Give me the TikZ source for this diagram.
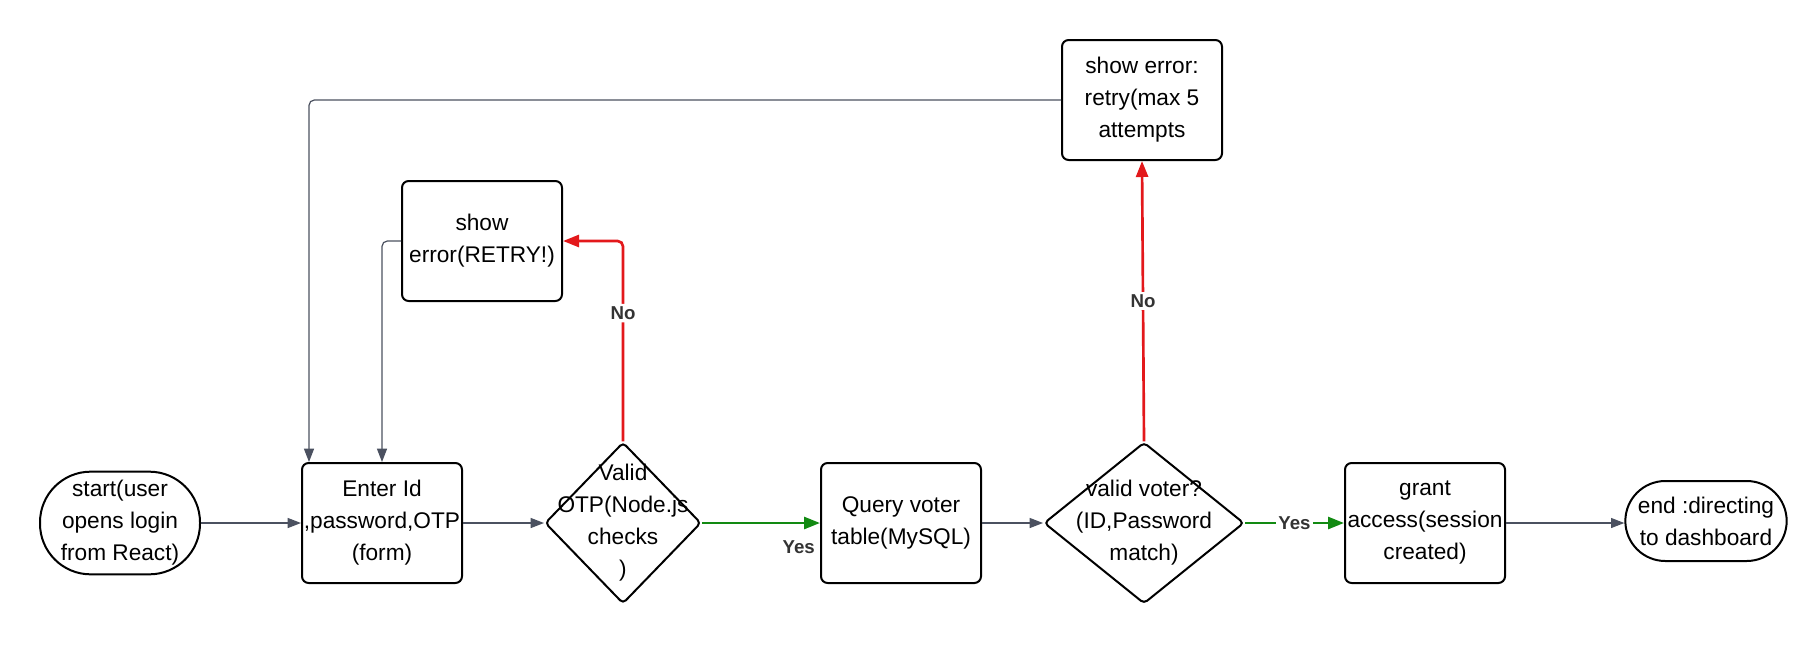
\documentclass[tikz,border=0pt]{standalone}
\usepackage{fontspec}
\setmainfont{Liberation Sans}
\usetikzlibrary{shapes.geometric,arrows.meta,calc}
\definecolor{linegray}{HTML}{4B5160}
\definecolor{nored}{HTML}{E3181B}
\definecolor{yesgreen}{HTML}{128A12}
\definecolor{taggray}{HTML}{333333}
\begin{document}
\begin{tikzpicture}[x=0.75pt, y=-0.75pt,
  every node/.style={font=\fontsize{17}{24}\selectfont, align=center},
  term node/.style={draw, line width=1.5pt, minimum width=120pt, minimum height=77pt, rounded corners=38pt, inner sep=0pt},
  box node/.style={draw, line width=1.5pt, minimum width=120pt, minimum height=90pt, rounded corners=5pt, inner sep=0pt},
  choice node/.style={diamond, draw, line width=1.5pt, minimum height=121pt, inner sep=0pt, rounded corners=3pt},
  tag/.style={font=\fontsize{14}{16}\selectfont\bfseries, text=taggray, fill=white, inner sep=2pt},
  flow/.style={draw=linegray, line width=0.9pt, -{Triangle[length=10pt,width=7.5pt]}},
  yes line/.style={draw=yesgreen, line width=2pt, -{Triangle[length=12pt,width=9pt]}},
  no line/.style={draw=nored, line width=2pt, -{Triangle[length=12pt,width=9pt]}}]
\useasboundingbox (0,0) rectangle (1820,647);
% main row
\node[term node] (start) at (120,523) {start(user\\opens login\\from React)};
\node[box node] (enter) at (382,523) {Enter Id\\,password,OTP\\(form)};
\node[choice node, minimum width=117pt, label={center:{Valid\\OTP(Node.js\\checks\\)}}] (otp) at (623,523) {};
\node[box node] (query) at (901,523) {Query voter\\table(MySQL)};
\node[choice node, minimum width=150pt, label={center:{valid voter?\\(ID,Password\\match)}}] (voter) at (1144,523) {};
\node[box node] (grant) at (1425,523) {grant\\access(session\\created)};
\node[term node, minimum width=121pt, minimum height=60pt, rounded corners=30pt] (finish) at (1706,521) {end :directing\\to dashboard};
% error boxes
\node[box node] (retry) at (482,241) {show\\error(RETRY!)};
\node[box node] (retrymax) at (1142,100) {show error:\\retry(max 5\\attempts};
% connectors
\draw[flow] (start) -- (enter);
\draw[flow] (enter) -- (otp);
\draw[yes line] (otp) -- node[tag, pos=0.82, yshift=-18pt] {Yes} (query);
\draw[no line, rounded corners=4pt] (otp.north) |- node[tag, pos=0.32] {No} (retry.east);
\draw[flow] (query) -- (voter);
\draw[yes line] (voter) -- node[tag] {Yes} (grant);
\draw[no line] (voter.north) -- node[tag] {No} (retrymax.south);
\draw[flow] (grant) -- (finish.west |- grant.east);
\draw[flow, rounded corners=4pt] (retry.west) -| (enter.north);
\draw[flow, rounded corners=4pt] (retrymax.west) -| ($(enter.north west)+(8,0)$);
\end{tikzpicture}
\end{document}
